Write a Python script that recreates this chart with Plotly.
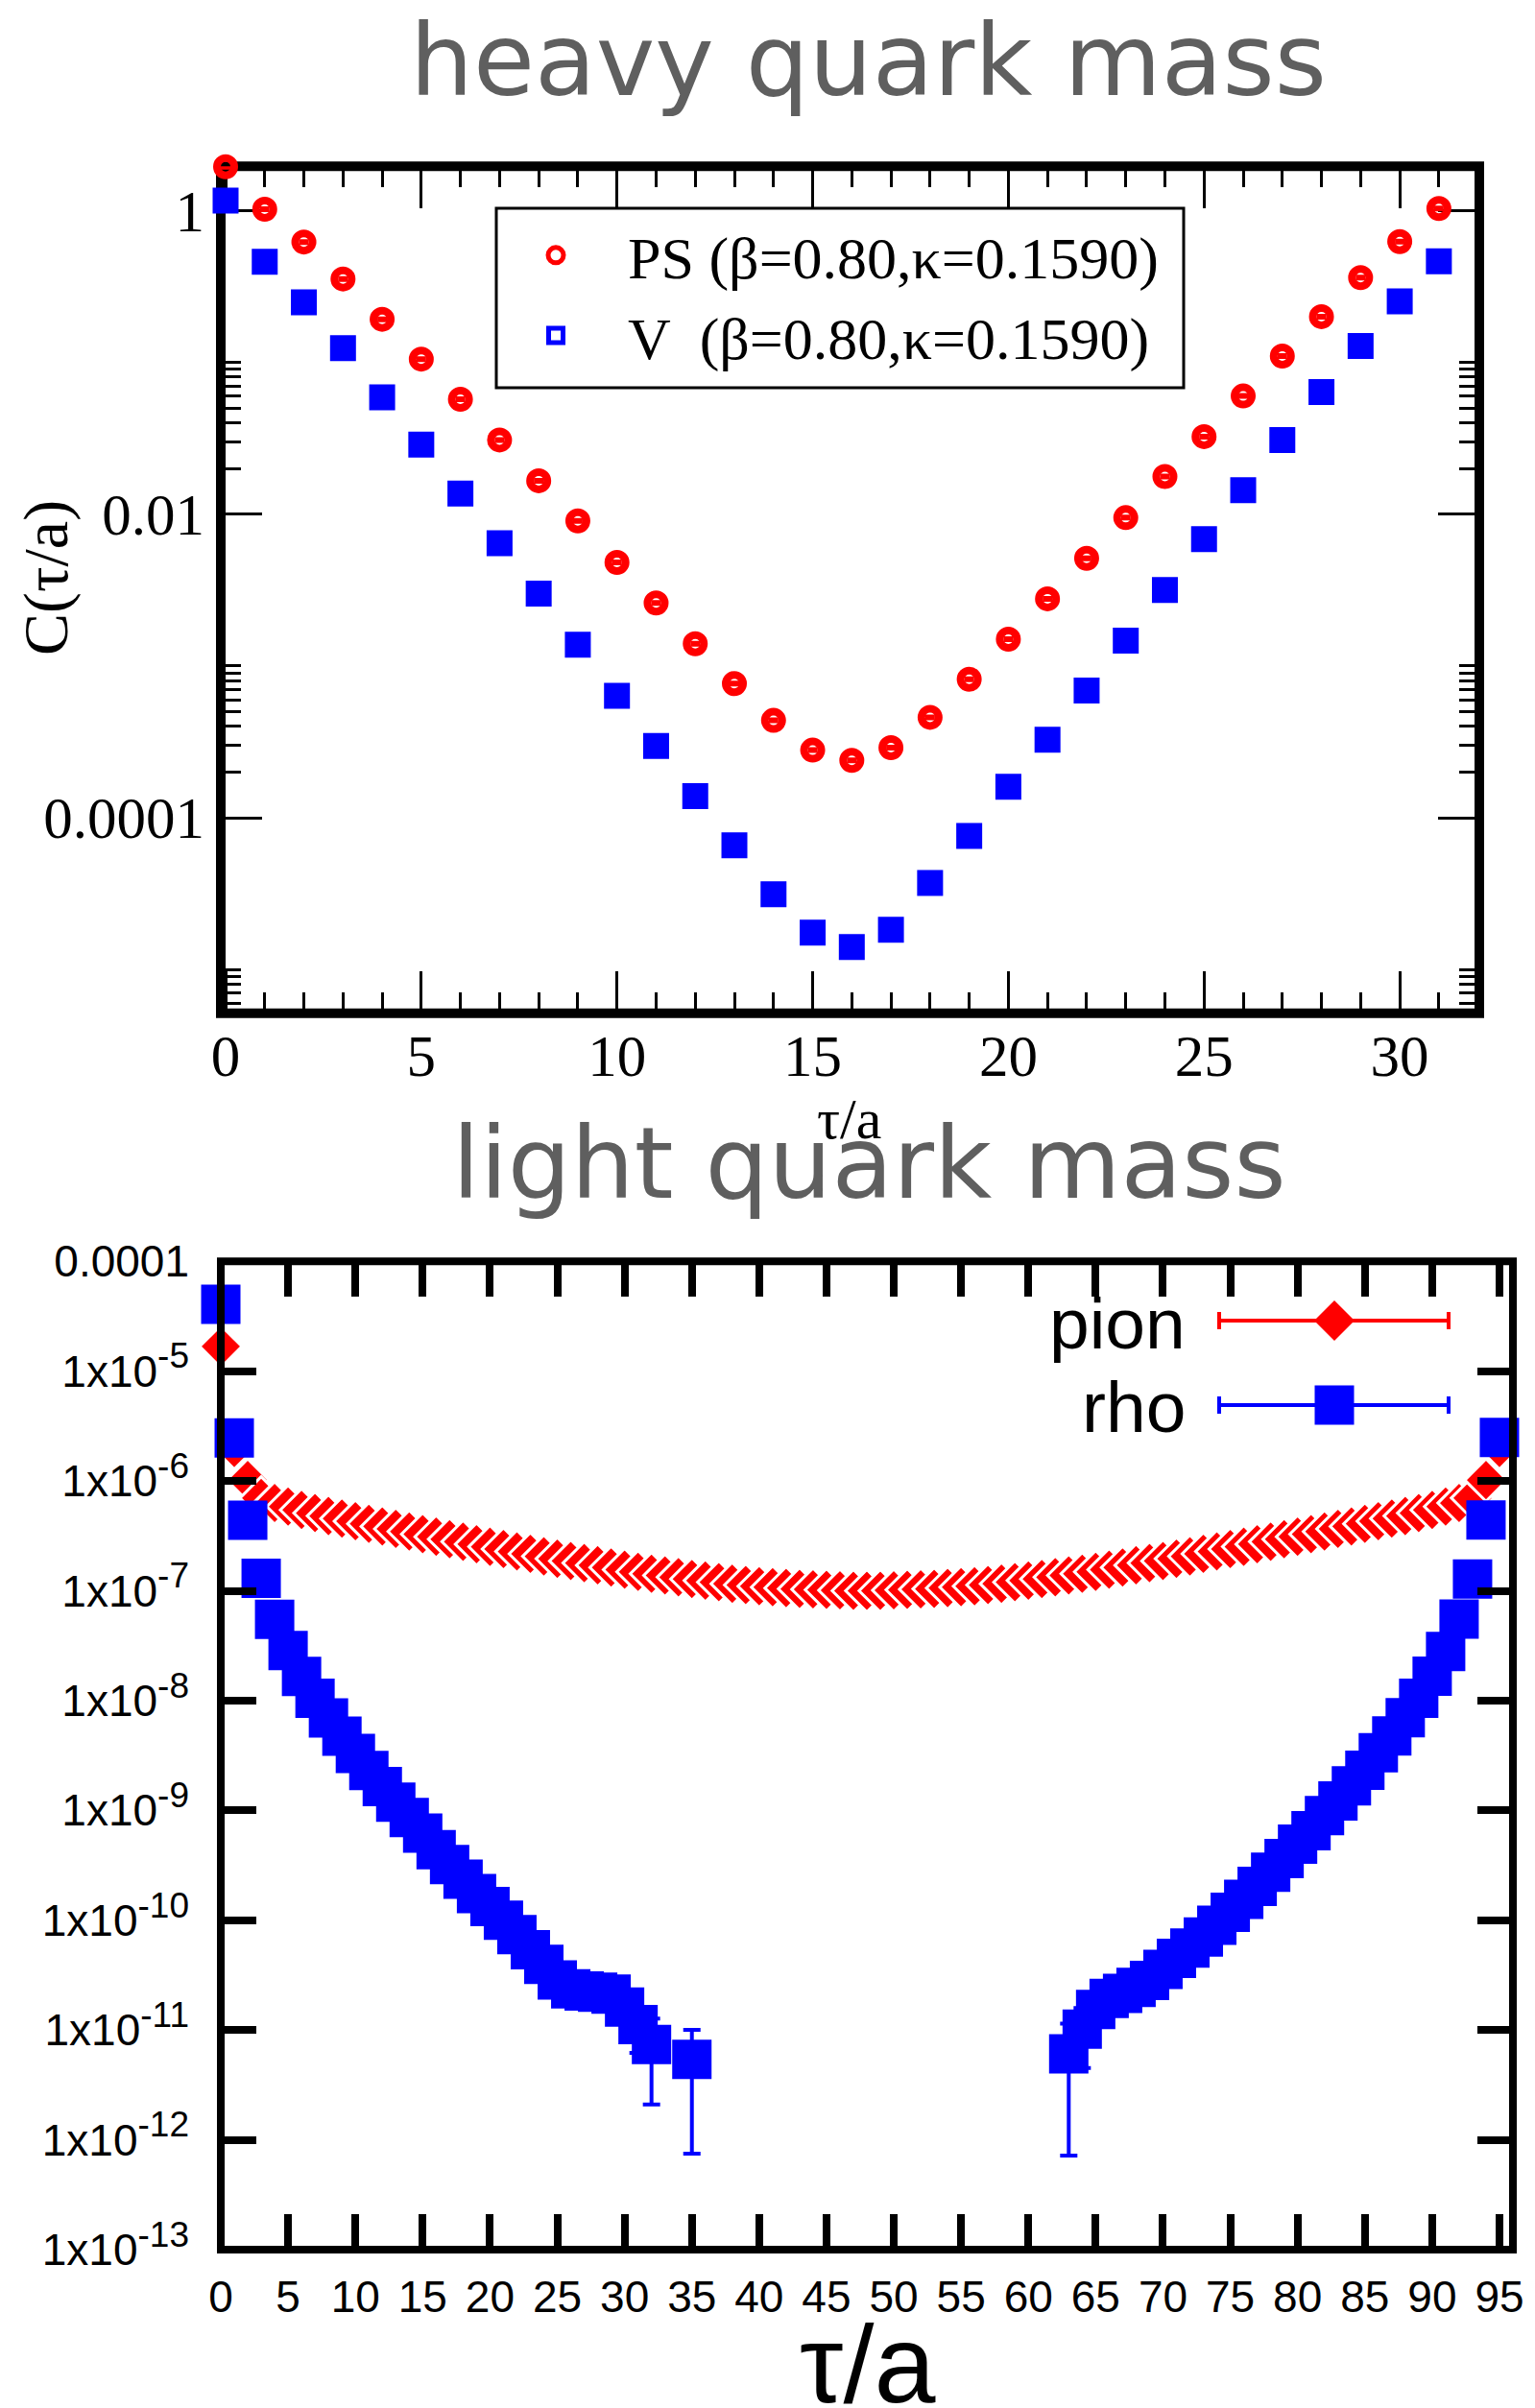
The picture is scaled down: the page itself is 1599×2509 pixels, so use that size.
import plotly.graph_objects as go

# ---------------------------------------------------------------- figure size
W, H = 1599, 2509


def px(x):
    """pixel column -> paper x"""
    return x / W


def py(y):
    """pixel row (from top) -> paper y"""
    return 1 - y / H


# ---------------------------------------------------------------- heavy quark mass (Nt = 32)
tau_heavy = list(range(32))
ps_corr = [1.94, 1.02, 0.62, 0.354, 0.192, 0.105, 0.0571, 0.0308, 0.0166, 0.00903,
           0.00481, 0.0026, 0.0014, 0.000766, 0.000438, 0.000279, 0.000239, 0.00029,
           0.000459, 0.000818, 0.0015, 0.00277, 0.00512, 0.00948, 0.0177, 0.0324,
           0.06, 0.110, 0.2, 0.361, 0.624, 1.03]
v_corr = [1.16, 0.46, 0.248, 0.124, 0.0588, 0.0287, 0.01365, 0.00643, 0.003, 0.00138,
          0.000636, 0.000297, 0.000139, 6.6e-5, 3.14e-5, 1.75e-5, 1.41e-5, 1.83e-5,
          3.72e-5, 7.6e-5, 0.00016, 0.000327, 0.00069, 0.00147, 0.00316, 0.00685,
          0.0144, 0.0308, 0.0638, 0.128, 0.252, 0.462]
heavy_xticks = [0, 5, 10, 15, 20, 25, 30]
heavy_yticks = [1e-4, 1e-2, 1]
heavy_ytext = ["0.0001", "0.01", "1"]
heavy_yminor = [k * 10.0 ** e for e in (-6, -4, -2) for k in range(2, 11)]

# ---------------------------------------------------------------- light quark mass (Nt = 96)
tau_pion = list(range(96))
pion_corr = [1.68e-5, 2.0e-6, 1.02e-6, 7.0e-7, 6.3e-7, 5.85e-7, 5.45e-7, 5.10e-7,
             4.80e-7, 4.55e-7, 4.31e-7, 4.08e-7, 3.86e-7, 3.66e-7, 3.47e-7, 3.28e-7,
             3.11e-7, 2.95e-7, 2.80e-7, 2.66e-7, 2.52e-7, 2.40e-7, 2.28e-7, 2.17e-7,
             2.06e-7, 1.96e-7, 1.87e-7, 1.79e-7, 1.71e-7, 1.63e-7, 1.56e-7, 1.49e-7,
             1.43e-7, 1.38e-7, 1.33e-7, 1.28e-7, 1.24e-7, 1.20e-7, 1.16e-7, 1.13e-7,
             1.10e-7, 1.08e-7, 1.06e-7, 1.04e-7, 1.03e-7, 1.02e-7, 1.01e-7, 1.00e-7,
             1.00e-7, 1.00e-7, 1.01e-7, 1.02e-7, 1.03e-7, 1.04e-7, 1.06e-7, 1.08e-7,
             1.10e-7, 1.13e-7, 1.16e-7, 1.20e-7, 1.24e-7, 1.28e-7, 1.33e-7, 1.38e-7,
             1.43e-7, 1.49e-7, 1.56e-7, 1.63e-7, 1.71e-7, 1.79e-7, 1.87e-7, 1.96e-7,
             2.06e-7, 2.17e-7, 2.28e-7, 2.40e-7, 2.52e-7, 2.66e-7, 2.80e-7, 2.95e-7,
             3.11e-7, 3.28e-7, 3.47e-7, 3.66e-7, 3.86e-7, 4.08e-7, 4.31e-7, 4.55e-7,
             4.80e-7, 5.10e-7, 5.45e-7, 5.85e-7, 6.3e-7, 7.0e-7, 1.02e-6, 2.0e-6]

tau_rho = list(range(0, 33)) + [35] + list(range(63, 96))
rho_corr = [4.06e-5, 2.47e-6, 4.4e-7, 1.30e-7, 5.5e-8, 2.86e-8, 1.66e-8, 1.05e-8,
            6.97e-9, 4.75e-9, 3.3e-9, 2.31e-9, 1.65e-9, 1.19e-9, 8.6e-10, 6.2e-10,
            4.4e-10, 3.22e-10, 2.36e-10, 1.75e-10, 1.33e-10, 1.0e-10, 7.4e-11, 5.4e-11,
            3.96e-11, 2.86e-11, 2.37e-11, 2.27e-11, 2.21e-11, 2.12e-11, 1.62e-11,
            1.12e-11, 7.4e-12,
            5.4e-12,
            6.08e-12, 1.02e-11, 1.54e-11, 1.94e-11, 2.16e-11, 2.44e-11, 2.83e-11,
            3.57e-11, 4.5e-11, 5.59e-11, 7.04e-11, 9.0e-11, 1.18e-10, 1.55e-10,
            2.03e-10, 2.74e-10, 3.65e-10, 4.92e-10, 6.55e-10, 8.95e-10, 1.22e-9,
            1.67e-9, 2.32e-9, 3.35e-9, 4.77e-9, 6.98e-9, 1.05e-8, 1.67e-8, 2.8e-8,
            5.52e-8, 1.28e-7, 4.42e-7, 2.49e-6]
rho_err = [0] * 29 + [2.5e-12, 3.5e-12, 5.0e-12, 5.3e-12,
                      4.65e-12,
                      5.36e-12, 5.7e-12, 4.0e-12, 3.0e-12] + [0] * 29

light_xticks = list(range(0, 96, 5))
light_yticks = [1e-13, 1e-12, 1e-11, 1e-10, 1e-9, 1e-8, 1e-7, 1e-6, 1e-5, 1e-4]
light_yexp = ["-13", "-12", "-11", "-10", "-9", "-8", "-7", "-6", "-5"]
light_ytext = [f'1x10<sup><span style="font-size:37px">{e}</span></sup>'
               for e in light_yexp] + ["0.0001"]

RED = "#ff0000"
BLUE = "#0000ff"
SERIF = "Liberation Serif, Times New Roman, serif"
SANS = "Liberation Sans, Arial, Helvetica, sans-serif"
TITLE_FONT = dict(family="DejaVu Sans, sans-serif", size=104, color="#5f5f5f")

# frame rectangles (line centres, pixels)
TOP_FRAME = dict(l=230, r=1541, t=173.3, b=1055.8)
BOT_FRAME = dict(l=230, r=1576, t=1314.3, b=2344)

fig = go.Figure()

# heavy quark correlators
fig.add_trace(go.Scatter(
    x=tau_heavy, y=ps_corr, mode="markers", name="PS (β=0.80,κ=0.1590)",
    marker=dict(symbol="circle-open", size=18, color=RED, line=dict(width=8)),
    error_y=dict(type="constant", value=0, width=5, thickness=6, color=RED),
    xaxis="x", yaxis="y", cliponaxis=False, legend="legend"))
fig.add_trace(go.Scatter(
    x=tau_heavy, y=v_corr, mode="markers", name="V  (β=0.80,κ=0.1590)",
    marker=dict(symbol="square-open", size=15, color=BLUE, line=dict(width=12)),
    error_y=dict(type="constant", value=0, width=4, thickness=6, color=BLUE),
    xaxis="x", yaxis="y", cliponaxis=False, legend="legend"))

# light quark correlators
fig.add_trace(go.Scatter(
    x=tau_pion, y=pion_corr, mode="markers", name="pion", showlegend=False,
    marker=dict(symbol="diamond", size=34, color=RED, line=dict(width=3, color="white")),
    xaxis="x2", yaxis="y2", cliponaxis=False))
fig.add_trace(go.Scatter(
    x=tau_rho, y=rho_corr, mode="markers", name="rho", showlegend=False,
    marker=dict(symbol="square", size=41, color=BLUE, line=dict(width=0)),
    error_y=dict(type="data", array=rho_err, width=9, thickness=4, color=BLUE),
    xaxis="x2", yaxis="y2", cliponaxis=False))

# ---------------------------------------------------------------- axes
heavy_common = dict(showline=False, mirror="ticks", ticks="inside", tickcolor="black",
                    tickwidth=3, showgrid=False, zeroline=False, layer="below traces",
                    automargin=False,
                    tickfont=dict(family=SERIF, size=61, color="black"))
light_common = dict(showline=False, mirror="ticks", ticks="inside", tickcolor="black",
                    tickwidth=8, ticklen=37, showgrid=False, zeroline=False,
                    layer="above traces", automargin=False,
                    tickfont=dict(family=SANS, size=46, color="black"))

x_px = 40.77     # pixels per time slice, heavy panel
dec_px = 158.2   # pixels per decade, heavy panel
tau0_px, one_px = 235.0, 219.3

fig.update_layout(
    width=W, height=H, autosize=False,
    margin=dict(l=0, r=0, t=0, b=0, pad=0, autoexpand=False),
    paper_bgcolor="white", plot_bgcolor="white",
    xaxis=dict(domain=[px(TOP_FRAME["l"]), px(TOP_FRAME["r"])], anchor="y",
               range=[(TOP_FRAME["l"] - tau0_px) / x_px, (TOP_FRAME["r"] - tau0_px) / x_px],
               tickmode="array", tickvals=heavy_xticks, ticklen=44, ticklabelstandoff=3,
               minor=dict(tickmode="array", tickvals=tau_heavy, ticks="inside",
                          ticklen=22, tickwidth=3, tickcolor="black"),
               **heavy_common),
    yaxis=dict(domain=[py(TOP_FRAME["b"]), py(TOP_FRAME["t"])], anchor="x", type="log",
               range=[-(TOP_FRAME["b"] - one_px) / dec_px, (one_px - TOP_FRAME["t"]) / dec_px],
               tickmode="array", tickvals=heavy_yticks, ticktext=heavy_ytext, ticklen=43,
               ticklabelstandoff=16,
               minor=dict(tickmode="array", tickvals=heavy_yminor,
                          ticks="inside", ticklen=21, tickwidth=3, tickcolor="black"),
               **heavy_common),
    xaxis2=dict(domain=[px(BOT_FRAME["l"]), px(BOT_FRAME["r"])], anchor="y2", range=[0, 96],
                tickmode="array", tickvals=light_xticks, ticklabelstandoff=18, **light_common),
    yaxis2=dict(domain=[py(BOT_FRAME["b"]), py(BOT_FRAME["t"])], anchor="x2", type="log",
                range=[-13, -4], tickmode="array", tickvals=light_yticks,
                ticktext=light_ytext, ticklabelstandoff=32, **light_common),
    legend=dict(x=px(504), y=py(219), xanchor="left", yanchor="top",
                bgcolor="rgba(0,0,0,0)", borderwidth=0, itemwidth=140,
                font=dict(family=SERIF, size=62, color="black"), tracegroupgap=0),
    showlegend=True,
)

# ---------------------------------------------------------------- titles
annotations = [
    dict(text="heavy quark mass", x=px(904), y=py(63), font=TITLE_FONT),
    dict(text="light quark mass", x=px(905), y=py(1212), font=TITLE_FONT),
    dict(text="τ/a", x=px(884), y=py(1166), font=dict(family=SERIF, size=60, color="black")),
    dict(text="C(τ/a)", x=px(48), y=py(602), textangle=-90,
         font=dict(family=SERIF, size=66, color="black")),
    dict(text="τ/a", x=px(903), y=py(2463), font=dict(family=SANS, size=115, color="black")),
    # key of the light-quark panel
    dict(text="pion", x=px(1237), y=py(1379), xanchor="right",
         font=dict(family=SANS, size=75, color="black")),
    dict(text="rho", x=px(1237), y=py(1466), xanchor="right",
         font=dict(family=SANS, size=75, color="black")),
]
for a in annotations:
    a.setdefault("xanchor", "center")
    a.update(xref="paper", yref="paper", yanchor="middle", showarrow=False)
fig.update_layout(annotations=annotations)

# panel frames, legend box of the heavy panel and key samples of the light panel
shapes = [
    dict(type="rect", x0=px(TOP_FRAME["l"]), x1=px(TOP_FRAME["r"]),
         y0=py(TOP_FRAME["b"]), y1=py(TOP_FRAME["t"]),
         line=dict(color="black", width=10), fillcolor="rgba(0,0,0,0)", layer="below"),
    dict(type="rect", x0=px(BOT_FRAME["l"]), x1=px(BOT_FRAME["r"]),
         y0=py(BOT_FRAME["b"]), y1=py(BOT_FRAME["t"]),
         line=dict(color="black", width=8), fillcolor="rgba(0,0,0,0)", layer="above"),
    dict(type="rect", x0=px(517), x1=px(1233), y0=py(404), y1=py(217),
         line=dict(color="black", width=3), fillcolor="rgba(0,0,0,0)"),
]
for yk, col in ((1376, RED), (1464, BLUE)):
    shapes.append(dict(type="line", x0=px(1270), x1=px(1509), y0=py(yk), y1=py(yk),
                       line=dict(color=col, width=4)))
    for xc in (1270, 1509):
        shapes.append(dict(type="line", x0=px(xc), x1=px(xc), y0=py(yk - 9), y1=py(yk + 9),
                           line=dict(color=col, width=4)))
cx, cy, r = 1390, 1376, 21
shapes.append(dict(type="path",
                   path=(f"M {px(cx - r)} {py(cy)} L {px(cx)} {py(cy - r)} "
                         f"L {px(cx + r)} {py(cy)} L {px(cx)} {py(cy + r)} Z"),
                   fillcolor=RED, line=dict(width=0)))
shapes.append(dict(type="rect", x0=px(1369.5), x1=px(1410.5), y0=py(1484.5), y1=py(1443.5),
                   fillcolor=BLUE, line=dict(width=0)))
for s in shapes:
    s.update(xref="paper", yref="paper")
fig.update_layout(shapes=shapes)

fig.write_html("out.html", config={"displayModeBar": False})
